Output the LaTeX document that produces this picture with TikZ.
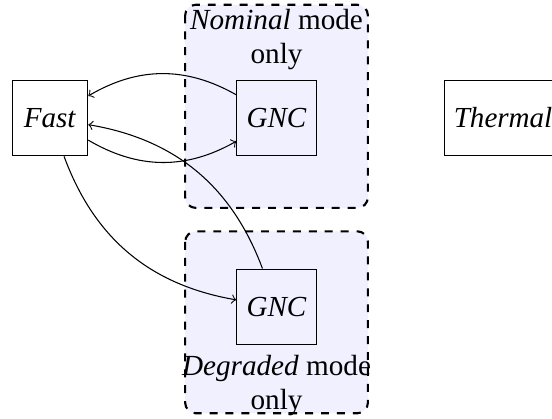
\documentclass[11pt,tikz,border=0pt]{standalone}
\usepackage{fontspec}
\setmainfont{Liberation Serif}
\usetikzlibrary{positioning,calc,backgrounds}

\begin{document}
\begin{tikzpicture}[node distance=2.5cm and 3cm, on grid,
    block/.style={draw, minimum size=1cm},
    modelabel/.style={align=center, font=\fontsize{11}{12.7}\selectfont},
    modebox/.style={draw, thick, dashed, rounded corners, fill=blue!6}]
%
    \useasboundingbox (-0.662, 1.563) rectangle (6.648, -3.973);
%
    \node[block] (fast) {\emph{Fast}};
    \node[block, right=of fast] (gncA) {\emph{GNC}};
    \node[block, right=of gncA] (thermal) {\emph{Thermal}};
    \node[block, below=of gncA] (gncB) {\emph{GNC}};
%
    \node[modelabel, anchor=south] (nomlbl) at (gncA.north) {\emph{Nominal} mode\\only};
    \node[modelabel, anchor=north] (deglbl) at (gncB.south) {\emph{Degraded} mode\\only};
%
    \draw[->] (gncA) to[bend right] (fast);
    \draw[->] (fast) to[bend right] (gncA);
    \draw[->] (fast) to[bend right] (gncB);
    \draw[->] (gncB) to[bend right] (fast);
%
    \begin{scope}[on background layer]
      \draw[modebox] ($(gncA)+(-1.21,1.5)$) rectangle ($(gncA)+(1.21,-1.19)$);
      \draw[modebox] ($(gncB)+(-1.21,1.0)$) rectangle ($(gncB)+(1.21,-1.41)$);
    \end{scope}
\end{tikzpicture}
\end{document}
